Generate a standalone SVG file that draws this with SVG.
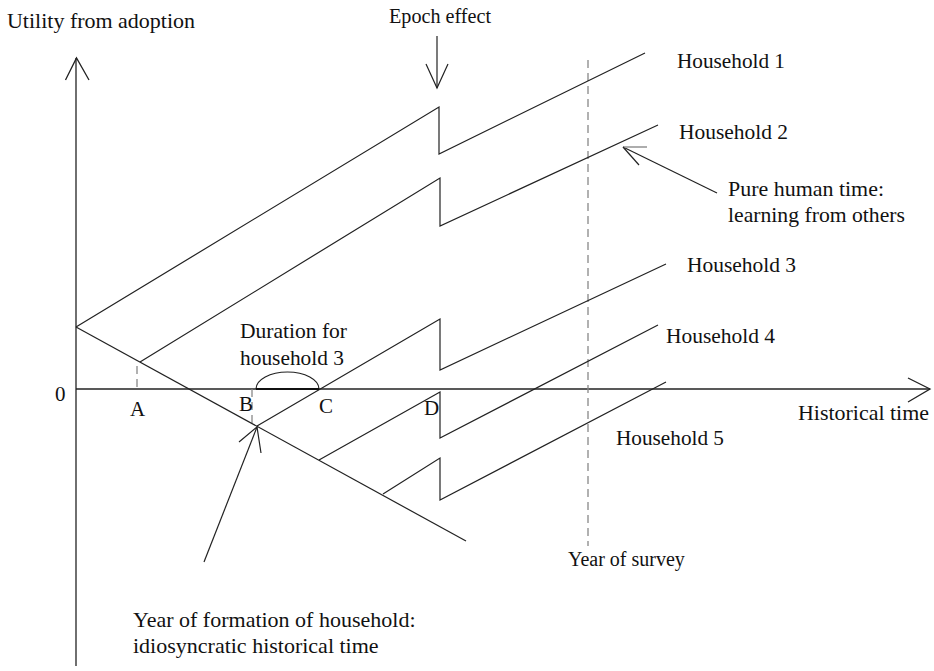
<svg xmlns="http://www.w3.org/2000/svg" width="934" height="671" viewBox="0 0 934 671">
<style>
text{font-family:"Liberation Serif","Times New Roman",serif;font-size:21px;fill:#111}
.big{font-size:22px}
.ln{fill:none;stroke:#222;stroke-width:1.2;stroke-linejoin:miter}
.ax{fill:none;stroke:#222;stroke-width:1.3}
.dash{fill:none;stroke:#888;stroke-width:1.3;stroke-dasharray:8 5}
</style>
<rect width="934" height="671" fill="#fff"/>
<g id="axes">
<line class="ax" x1="76" y1="58" x2="76" y2="666"/>
<polyline class="ax" points="65.5,80 76.5,58 89,80"/>
<line class="ax" x1="76" y1="389" x2="930" y2="389"/>
<polyline class="ax" points="908,378 930,389 908,402"/>
<text x="55" y="401">0</text>
<text x="7" y="28" textLength="188" lengthAdjust="spacingAndGlyphs">Utility from adoption</text>
<text class="big" x="798" y="420" textLength="131" lengthAdjust="spacingAndGlyphs">Historical time</text>
</g>
<g id="guides">
<line class="dash" x1="137" y1="366" x2="137" y2="389"/>
<line class="dash" x1="252" y1="389" x2="252" y2="427"/>
<line class="dash" x1="588" y1="60" x2="588" y2="546"/>
<text x="568" y="566" style="font-size:20px">Year of survey</text>
<text x="130" y="416">A</text>
<text x="239" y="411">B</text>
<text x="319" y="413">C</text>
<text x="424" y="415">D</text>
</g>
<g id="formation-line">
<polyline class="ln" points="76,327 466,541"/>
</g>
<g id="household1">
<polyline class="ln" points="76,327 439,107 439,154 645,53"/>
<text x="677" y="68" textLength="108" lengthAdjust="spacingAndGlyphs">Household 1</text>
</g>
<g id="household2">
<polyline class="ln" points="140,362 440,178 440,226 658,125"/>
<text x="679" y="139" textLength="109" lengthAdjust="spacingAndGlyphs">Household 2</text>
</g>
<g id="household3">
<polyline class="ln" points="257,426 440,319 440,370 666,264"/>
<text x="687" y="272" textLength="109" lengthAdjust="spacingAndGlyphs">Household 3</text>
</g>
<g id="household4">
<polyline class="ln" points="319,460 440,392 440,438 658,325"/>
<text x="666" y="343" textLength="109" lengthAdjust="spacingAndGlyphs">Household 4</text>
</g>
<g id="household5">
<polyline class="ln" points="383,494 440,458 440,500 666,382"/>
<text x="616" y="445" textLength="108" lengthAdjust="spacingAndGlyphs">Household 5</text>
</g>
<g id="duration">
<path class="ln" d="M256,389 A31.5,17 0 0 1 319,389"/>
<line x1="256" y1="389" x2="319" y2="389" stroke="#111" stroke-width="2.2"/>
<text x="240" y="338" textLength="107" lengthAdjust="spacingAndGlyphs">Duration for</text>
<text x="240" y="365" textLength="104" lengthAdjust="spacingAndGlyphs">household 3</text>
</g>
<g id="connectors">
<line class="ln" x1="437" y1="36" x2="437" y2="88"/>
<polyline class="ln" points="426,64 437,88 448,64"/>
<line class="ln" x1="623" y1="147" x2="717" y2="193"/>
<line x1="623" y1="147" x2="647" y2="147" stroke="#999" stroke-width="1.6"/>
<line class="ln" x1="623" y1="147" x2="639" y2="165"/>
<line class="ln" x1="204" y1="562" x2="257" y2="427"/>
<polyline class="ln" points="239,442 257,427 261,453"/>
</g>
<g id="labels">
<text x="389" y="23" textLength="102" lengthAdjust="spacingAndGlyphs">Epoch effect</text>
<text x="728" y="196" textLength="156" lengthAdjust="spacingAndGlyphs">Pure human time:</text>
<text x="728" y="222" textLength="177" lengthAdjust="spacingAndGlyphs">learning from others</text>
<text class="big" x="133" y="627">Year of formation of household:</text>
<text class="big" x="133" y="653">idiosyncratic historical time</text>
</g>
</svg>
